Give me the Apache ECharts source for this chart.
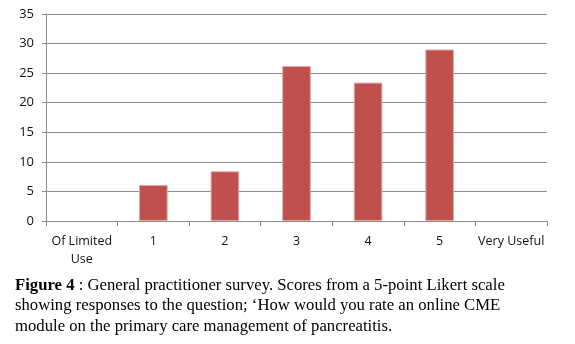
<!DOCTYPE html>
<html><head><meta charset="utf-8">
<script src="https://cdn.jsdelivr.net/npm/echarts@6/dist/echarts.min.js"></script>
<style>html,body{margin:0;padding:0;background:#fff}#c{width:575px;height:344px}</style>
</head><body><div id="c"></div>
<script>
const categories = ['Of Limited\nUse', '1', '2', '3', '4', '5', 'Very Useful'];
const values = [null, 6.1, 8.4, 26.2, 23.4, 29.0, null];
const yTicks = { min: 0, max: 35, interval: 5 };
const captionLines = [
  ['Figure 4', ' : General practitioner survey. Scores from a 5-point Likert scale'],
  ['', 'showing responses to the question; \u2018How would you rate an online CME'],
  ['', 'module on the primary care management of pancreatitis.']
];
const chart = echarts.init(document.getElementById('c'), null, {renderer: 'canvas'});
const capFont = '"Liberation Serif", serif';
const graphics = captionLines.map((l, i) => ({
  type: 'text', left: 15, top: 277 + i * 20.5,
  style: {
    text: (l[0] ? '{b|' + l[0] + '}' : '') + '{n|' + l[1] + '}',
    rich: {
      b: {font: 'bold 16.7px ' + capFont, fill: '#000'},
      n: {font: '16.7px ' + capFont, fill: '#000'}
    }
  }
}));
chart.setOption({
  animation: false,
  grid: {left: 46, right: 28, top: 14, bottom: 123},
  xAxis: {
    type: 'category', data: categories,
    axisLine: {lineStyle: {color: '#8c8c8c'}},
    axisTick: {show: true, length: 5, alignWithLabel: false, lineStyle: {color: '#8c8c8c'}},
    axisLabel: {color: '#111', fontFamily: 'Open Sans', fontSize: 12.5, margin: 11, interval: 0, lineHeight: 18}
  },
  yAxis: {
    type: 'value', min: yTicks.min, max: yTicks.max, interval: yTicks.interval,
    axisLine: {show: true, lineStyle: {color: '#8c8c8c'}},
    axisTick: {show: true, length: 4, lineStyle: {color: '#8c8c8c'}},
    splitLine: {lineStyle: {color: '#8c8c8c'}},
    axisLabel: {color: '#111', fontFamily: 'Open Sans', fontSize: 13, margin: 12}
  },
  series: [{
    type: 'bar', data: values, barWidth: '40%',
    itemStyle: {color: '#C0504D', borderColor: '#e0a8a6', borderWidth: 1}
  }],
  graphic: graphics
});
</script></body></html>
